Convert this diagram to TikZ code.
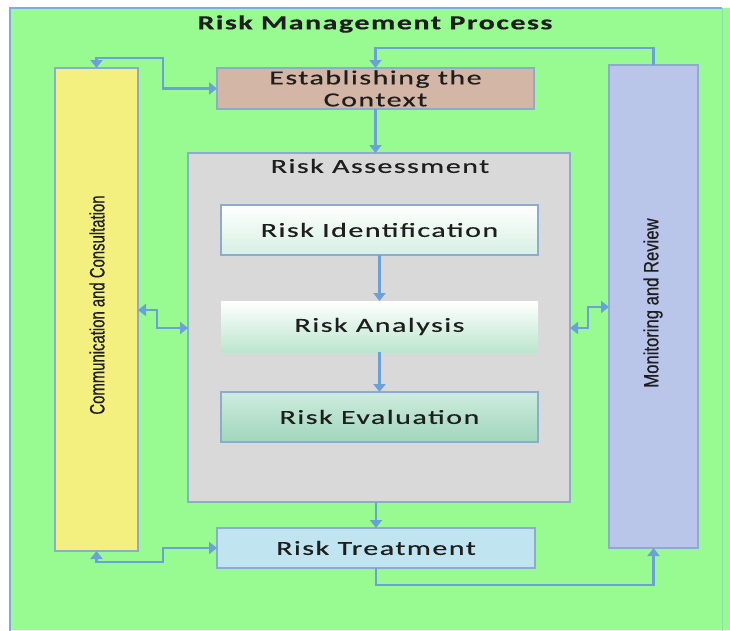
\documentclass[tikz,border=0pt]{standalone}
\usepackage{graphicx}
\usepackage{fontspec}
\usetikzlibrary{arrows.meta,calc}
\newfontfamily\lblfont[LetterSpace=5,FakeBold=0.4]{Carlito}
\newfontfamily\sidefont[FakeBold=0.6]{Liberation Sans}
\newcommand\wide[1]{\scalebox{1.5}[1]{#1}}

\definecolor{bggreen}{RGB}{152,251,146}
\definecolor{framecol}{RGB}{125,172,222}
\definecolor{edgecol}{RGB}{140,172,205}
\definecolor{arrcol}{RGB}{108,160,216}
\definecolor{yel}{RGB}{243,240,128}
\definecolor{ctxcol}{RGB}{211,182,166}
\definecolor{moncol}{RGB}{186,197,234}
\definecolor{graycol}{RGB}{217,217,217}
\definecolor{treatcol}{RGB}{192,229,240}
\definecolor{mintA}{RGB}{214,240,226}
\definecolor{mintB}{RGB}{188,230,206}
\definecolor{mintC}{RGB}{206,236,222}
\definecolor{mintD}{RGB}{160,214,188}
\definecolor{ink}{RGB}{30,30,30}

\tikzset{
  box/.style={draw=edgecol, line width=1.5pt, inner sep=0pt, outer sep=0pt,
    anchor=north west, font=\fontsize{20}{22}\selectfont\lblfont, text=ink, align=center},
  arr/.style={draw=arrcol, line width=2.7pt, -{Triangle[width=12pt,length=8pt]}},
  darr/.style={draw=arrcol, line width=2.7pt, {Triangle[width=12pt,length=8pt]}-{Triangle[width=12pt,length=8pt]}},
}

\begin{document}
\begin{tikzpicture}[x=1pt,y=-1pt]
\useasboundingbox (0,0) rectangle (730,630);
\fill[white] (0,0) rectangle (730,630);
% green panel with its frame
\fill[bggreen] (10,8) rectangle (730,630);
\draw[framecol, line width=2.5pt] (10,640) -- (10,8) -- (722,8);
\draw[framecol!35!bggreen, line width=1pt] (722,8) -- (722,640);

\node[font=\fontsize{20}{22}\selectfont\lblfont\bfseries, text=ink] (title) at (375,24) {\scalebox{1.5}[1]{Risk Management Process}};

% side columns
\node[box, fill=yel, minimum width=83pt, minimum height=483pt] (yel) at (55,68) {};
\node[rotate=90, font=\fontsize{16}{18}\selectfont\sidefont, text=ink] (comm) at (97,305) {\scalebox{0.93}[1.3]{Communication and Consultation}};
\node[box, fill=moncol, minimum width=89pt, minimum height=483pt] (mon) at (609,65) {};
\node[rotate=90, font=\fontsize{16}{18}\selectfont\sidefont, text=ink] (monr) at (653,303) {\scalebox{1.04}[1.3]{Monitoring and Review}};

% main chain
\node[box, fill=ctxcol, minimum width=317pt, minimum height=41pt] (ctx) at (217,68) {\wide{Establishing the}\\\wide{Context}};
\node[box, fill=graycol, minimum width=382pt, minimum height=349pt] (ra) at (188,153) {};
\node[font=\fontsize{20}{22}\selectfont\lblfont, text=ink] (ratitle) at (380,166) {\wide{Risk Assessment}};
\node[box, top color=white, bottom color=mintA, minimum width=317pt, minimum height=50pt] (rid) at (221,205) {\wide{Risk Identification}};
\node[box, draw=none, top color=white, bottom color=mintB, minimum width=317pt, minimum height=51pt] (ran) at (221,301) {\wide{Risk Analysis}};
\node[box, top color=mintC, bottom color=mintD, minimum width=317pt, minimum height=50pt] (rev) at (221,392) {\wide{Risk Evaluation}};
\node[box, fill=treatcol, minimum width=318pt, minimum height=40pt] (rt) at (217,528) {\wide{Risk Treatment}};

% junction points of the elbow connectors
\coordinate (j1) at (163,58);
\coordinate (l1) at (157,310);
\coordinate (l2) at (157,328);
\coordinate (r1) at (588,328);
\coordinate (r2) at (588,307);
\coordinate (b1) at (163,562);

% connectors
\draw[arr] (mon.north) |- ([yshift=20pt]ctx.north) -- (ctx.north);
\draw[darr] (yel.north) |- (j1) |- (ctx.west);
\draw[arr] (ctx.south) -- (ctx.south |- ra.north);
\draw[arr] (rid.south) -- (ran.north);
\draw[arr] (ran.south) -- (rev.north);
\draw[arr] (ra.south -| rt.north) -- (rt.north);
\draw[darr] (l1 -| yel.east) -- (l1) -- (l2) -- (l2 -| ra.west);
\draw[darr] (r1 -| ra.east) -- (r1) -- (r2) -- (r2 -| mon.west);
\draw[darr] (yel.south) |- (b1) |- (rt.west);
\draw[arr] (rt.south) |- ([yshift=-17pt]rt.south) -| (mon.south);
\end{tikzpicture}
\end{document}
